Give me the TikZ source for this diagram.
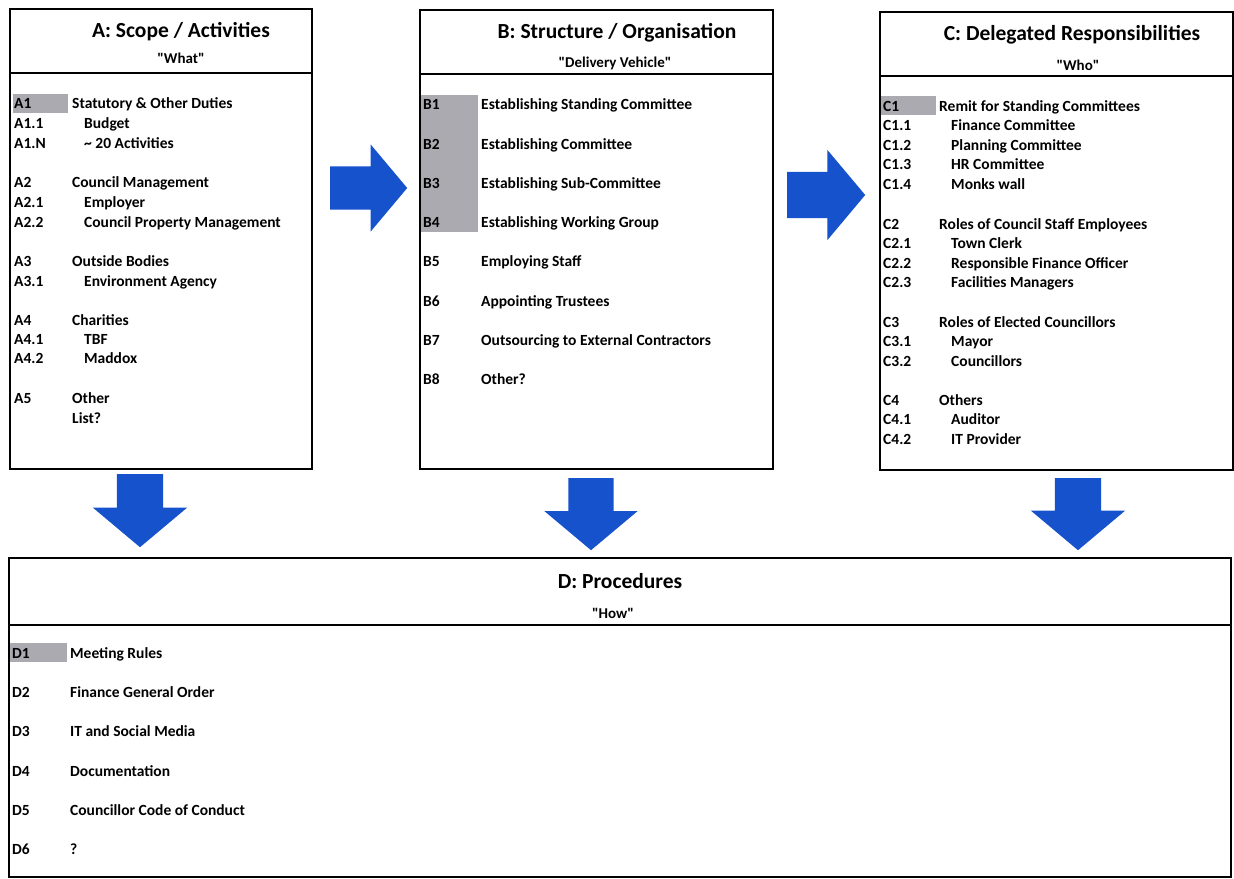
\documentclass[tikz,border=0pt]{standalone}
\usepackage{fontspec}
\setmainfont{Carlito}[BoldFont={Carlito Bold}]
\usetikzlibrary{shapes.arrows}
\definecolor{arrowblue}{RGB}{22,82,204}
\definecolor{markgrey}{RGB}{170,170,176}

\tikzset{
    box/.style={draw, line width=1.7pt, anchor=north west, inner sep=0pt},
    title/.style={font=\bfseries\fontsize{21.5}{24}\selectfont},
    subtitle/.style={font=\bfseries\fontsize{15}{17}\selectfont},
    code/.style={anchor=west, inner sep=0pt, text height=12pt, text depth=2pt, font=\bfseries\fontsize{15.5}{18}\selectfont},
    greymark/.style={fill=markgrey, draw=none},
    blockarrow/.style={single arrow, fill=arrowblue, draw=none, inner xsep=0pt, inner ysep=21.5pt, anchor=tail,
        single arrow tip angle=100, single arrow head extend=22pt},
    downarrow/.style={blockarrow, shape border rotate=270, inner ysep=0pt, inner xsep=23pt, single arrow head extend=24pt}
}

\begin{document}
\begin{tikzpicture}[x=1pt, y=-1pt]
    \useasboundingbox (0,0) rectangle (1234,878);

    % grey highlights
    \fill[greymark] (13,94) rectangle (68,113);
    \fill[greymark] (421,95) rectangle (478,232);
    \fill[greymark] (881,96) rectangle (936,115);
    \fill[greymark] (10,643) rectangle (67,662);

    % boxes
    \node[box, minimum width=302pt, minimum height=460pt] (boxA) at (9,8) {};
    \node[box, minimum width=353pt, minimum height=459pt] (boxB) at (419,9) {};
    \node[box, minimum width=353pt, minimum height=458pt] (boxC) at (879,11) {};
    \node[box, minimum width=1222pt, minimum height=319pt] (boxD) at (8,557) {};
    \draw[line width=1.7pt] (boxA.west |- 0,73) -- (boxA.east |- 0,73);
    \draw[line width=1.7pt] (boxB.west |- 0,74) -- (boxB.east |- 0,74);
    \draw[line width=1.7pt] (boxC.west |- 0,76) -- (boxC.east |- 0,76);
    \draw[line width=1.7pt] (boxD.west |- 0,625) -- (boxD.east |- 0,625);

    % headers
    \node[title] (titleA) at (181,32) {A: Scope / Activities};
    \node[subtitle] (subA) at (181,58) {\textquotedbl What\textquotedbl};
    \node[title] (titleB) at (617,33) {B: Structure / Organisation};
    \node[subtitle] (subB) at (615,63) {\textquotedbl Delivery Vehicle\textquotedbl};
    \node[title] (titleC) at (1072,35) {C: Delegated Responsibilities};
    \node[subtitle] (subC) at (1078,65) {\textquotedbl Who\textquotedbl};
    \node[title] (titleD) at (620,581) {D: Procedures};
    \node[subtitle] (subD) at (613,613) {\textquotedbl How\textquotedbl};

    % A rows
    \foreach \c/\t/\y/\x in {A1/Statutory \& Other Duties/103/72, A1.1/Budget/123/84,
        A1.N/\textasciitilde{} 20 Activities/143/84, A2/Council Management/182/72,
        A2.1/Employer/202/84, A2.2/Council Property Management/222/84,
        A3/Outside Bodies/261/72, A3.1/Environment Agency/281/84,
        A4/Charities/320/72, A4.1/TBF/339/84, A4.2/Maddox/358/84,
        A5/Other/398/72, /List?/418/72}
    {
        \node[code] (codeA\y) at (14,\y) {\c};
        \node[code] (itemA\y) at (\x,\y) {\t};
    }

    % B rows
    \foreach \c/\t/\y in {B1/Establishing Standing Committee/104, B2/Establishing Committee/144,
        B3/Establishing Sub-Committee/183, B4/Establishing Working Group/222,
        B5/Employing Staff/261, B6/Appointing Trustees/301,
        B7/Outsourcing to External Contractors/340, B8/Other?/379}
    {
        \node[code] (codeB\y) at (423,\y) {\c};
        \node[code] (itemB\y) at (481,\y) {\t};
    }

    % C rows
    \foreach \c/\t/\y/\x in {C1/Remit for Standing Committees/106/939, C1.1/Finance Committee/125/951,
        C1.2/Planning Committee/145/951, C1.3/HR Committee/164/951, C1.4/Monks wall/184/951,
        C2/Roles of Council Staff Employees/224/939, C2.1/Town Clerk/243/951,
        C2.2/Responsible Finance Officer/263/951, C2.3/Facilities Managers/282/951,
        C3/Roles of Elected Councillors/322/939, C3.1/Mayor/341/951, C3.2/Councillors/361/951,
        C4/Others/400/939, C4.1/Auditor/419/951, C4.2/IT Provider/439/951}
    {
        \node[code] (codeC\y) at (883,\y) {\c};
        \node[code] (itemC\y) at (\x,\y) {\t};
    }

    % D rows
    \foreach \c/\t/\y in {D1/Meeting Rules/653, D2/Finance General Order/692,
        D3/IT and Social Media/731, D4/Documentation/771,
        D5/Councillor Code of Conduct/810, D6/?/849}
    {
        \node[code] (codeD\y) at (12,\y) {\c};
        \node[code] (itemD\y) at (70,\y) {\t};
    }

    % block arrows
    \node[blockarrow, minimum height=77pt] (arrAB) at (330,188) {};
    \node[blockarrow, minimum height=78pt, inner ysep=23pt] (arrBC) at (787,195) {};
    \node[downarrow, minimum height=73pt] (arrAD) at (140,474) {};
    \node[downarrow, minimum height=72pt, inner xsep=22.5pt] (arrBD) at (591,478) {};
    \node[downarrow, minimum height=72pt] (arrCD) at (1078,478) {};
\end{tikzpicture}
\end{document}
